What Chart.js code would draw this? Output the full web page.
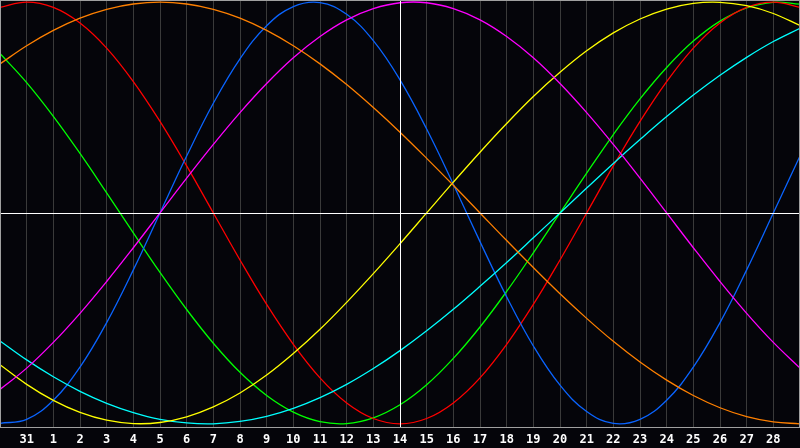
<!DOCTYPE html>
<html>
<head>
<meta charset="utf-8">
<script src="https://cdn.jsdelivr.net/npm/chart.js@4"></script>
<style>
    html, body { margin: 0; padding: 0; background: #05050a; }
    canvas { display: block; }
</style>
</head>
<body>
<canvas id="chart-js" width="800" height="448"></canvas>
<script>
// days shown (index 0 = left edge), labels sit on grid lines 1..29
const dayIndex = [0, 1, 2, 3, 4, 5, 6, 7, 8, 9, 10, 11, 12, 13, 14, 15, 16, 17, 18, 19, 20, 21, 22, 23, 24, 25, 26, 27, 28, 29, 30];
const dayLabels = ['31', '1', '2', '3', '4', '5', '6', '7', '8', '9', '10', '11', '12', '13', '14',
    '15', '16', '17', '18', '19', '20', '21', '22', '23', '24', '25', '26', '27', '28'];
const todayIndex = 15;

// cycle values in %, one per day
const physical = [-99.8, -97.9, -88.8, -73.1, -52.0, -27.0, 0, 27.0, 52.0, 73.1, 88.8, 97.9, 99.8, 94.2, 81.7, 63.1,
    39.8, 13.6, -13.6, -39.8, -63.1, -81.7, -94.2, -99.8, -97.9, -88.8, -73.1, -52.0, -27.0, 0, 27.0];
const emotional = [97.5, 100, 97.5, 90.1, 78.2, 62.3, 43.4, 22.3, 0, -22.3, -43.4, -62.3, -78.2, -90.1, -97.5, -100,
    -97.5, -90.1, -78.2, -62.3, -43.4, -22.3, 0, 22.3, 43.4, 62.3, 78.2, 90.1, 97.5, 100, 97.5];
const intellectual = [75.6, 61.8, 45.8, 28.2, 9.5, -9.5, -28.2, -45.8, -61.8, -75.6, -86.6, -94.5, -99.0, -99.9, -97.2, -91.0,
    -81.5, -69.0, -54.1, -37.2, -18.9, 0, 18.9, 37.2, 54.1, 69.0, 81.5, 91.0, 97.2, 99.9, 99.0];
const intuitive = [-83.7, -73.6, -61.4, -47.6, -32.5, -16.5, 0, 16.5, 32.5, 47.6, 61.4, 73.6, 83.7, 91.6, 96.9, 99.7,
    99.7, 96.9, 91.6, 83.7, 73.6, 61.4, 47.6, 32.5, 16.5, 0, -16.5, -32.5, -47.6, -61.4, -73.6];
const aesthetic = [-72.0, -81.3, -88.9, -94.6, -98.3, -99.9, -99.4, -96.7, -92.0, -85.4, -76.9, -66.7, -55.2, -42.4, -28.8, -14.6,
    0, 14.6, 28.8, 42.4, 55.2, 66.7, 76.9, 85.4, 92.0, 96.7, 99.4, 99.9, 98.3, 94.6, 88.9];
const awareness = [70.7, 79.3, 86.6, 92.4, 96.6, 99.1, 100, 99.1, 96.6, 92.4, 86.6, 79.3, 70.7, 60.9, 50.0, 38.3,
    25.9, 13.1, 0, -13.1, -25.9, -38.3, -50.0, -60.9, -70.7, -79.3, -86.6, -92.4, -96.6, -99.1, -100];
const spiritual = [-60.7, -69.7, -77.7, -84.6, -90.3, -94.7, -97.9, -99.6, -100.0, -98.9, -96.5, -92.7, -87.6, -81.3, -73.8, -65.3,
    -55.9, -45.7, -34.8, -23.5, -11.8, 0, 11.8, 23.5, 34.8, 45.7, 55.9, 65.3, 73.8, 81.3, 87.6];

const toPoints = (vals) => dayIndex.map((d, i) => ({ x: d, y: vals[i] }));
const line = (label, vals, color) => ({
    label: label,
    data: toPoints(vals),
    borderColor: color,
    borderWidth: 1.3,
    pointRadius: 0,
    pointHoverRadius: 0,
    tension: 0.4,
    fill: false,
});

const framePlugin = {
    id: 'frame',
    beforeDraw(chart) {
        const ctx = chart.ctx;
        ctx.save();
        ctx.fillStyle = '#05050a';
        ctx.fillRect(0, 0, chart.width, chart.height);
        ctx.restore();
    },
    afterDatasetsDraw(chart) {
        const { ctx, chartArea: a, scales: { x, y } } = chart;
        ctx.save();
        ctx.lineWidth = 1;
        ctx.strokeStyle = '#ffffff';
        let px = Math.round(x.getPixelForValue(todayIndex)) + 0.5;
        let py = Math.round(y.getPixelForValue(0)) + 0.5;
        ctx.beginPath();
        ctx.moveTo(px, a.top); ctx.lineTo(px, a.bottom);
        ctx.moveTo(a.left, py); ctx.lineTo(a.right, py);
        ctx.stroke();
        ctx.strokeStyle = '#a0a0a0';
        ctx.strokeRect(a.left + 0.5, a.top + 0.5, a.width - 1, a.height - 1);
        ctx.restore();
    }
};

const ctx = document.getElementById('chart-js');
new Chart(ctx, {
    type: 'line',
    data: {
        datasets: [
            line('Awareness', awareness, '#ff8000'),
            line('Intuitive', intuitive, '#ff00ff'),
            line('Aesthetic', aesthetic, '#ffff00'),
            line('Spiritual', spiritual, '#00ffff'),
            line('Physical', physical, '#0a64ff'),
            line('Emotional', emotional, '#ff0000'),
            line('Intellectual', intellectual, '#00ff00'),
        ]
    },
    options: {
        responsive: false,
        animation: false,
        devicePixelRatio: 1,
        layout: { padding: 0, autoPadding: false },
        plugins: {
            legend: { display: false },
            tooltip: { enabled: false },
        },
        scales: {
            x: {
                type: 'linear',
                min: 0,
                max: 30,
                grid: { color: '#3a3a3a', drawTicks: true, tickLength: 5, tickColor: 'rgba(0,0,0,0)' },
                border: { display: false },
                ticks: {
                    stepSize: 1,
                    autoSkip: false,
                    maxRotation: 0,
                    padding: 0,
                    color: '#ffffff',
                    font: { family: 'DejaVu Sans Mono', size: 12, weight: 'bold' },
                    callback: (v) => dayLabels[v - 1] || '',
                },
                afterFit: (scale) => { scale.height = 20; },
            },
            y: {
                display: false,
                min: -102,
                max: 101,
            }
        }
    },
    plugins: [framePlugin]
});
</script>
</body>
</html>
